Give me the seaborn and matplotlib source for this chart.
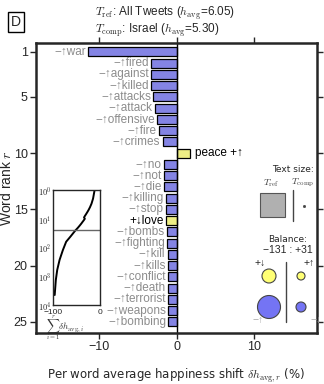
import numpy as np
import pandas as pd
import matplotlib
matplotlib.use("Agg")
import matplotlib.pyplot as plt
import seaborn as sns
from matplotlib.patches import Circle, Rectangle

sns.set_style("ticks")
plt.rcParams['font.family'] = ['Liberation Sans', 'DejaVu Sans']
plt.rcParams['mathtext.fontset'] = 'cm'

# Word shift data (top 25 words)
words = ["war", "fired", "against", "killed", "attacks", "attack", "offensive", "fire",
         "crimes", "peace", "no", "not", "die", "killing", "stop", "love", "bombs",
         "fighting", "kill", "kills", "conflict", "death", "terrorist", "weapons", "bombing"]
shifts = [-11.45, -3.35, -3.3, -3.3, -3.05, -2.85, -2.55, -2.3, -1.85, 1.7,
          -1.7, -1.7, -1.65, -1.4, -1.4, -1.35, -1.3, -1.25, -1.2, -1.15,
          -1.15, -1.1, -1.1, -1.1, -1.1]
prefixes = ["−↑"] * 9 + ["+↑"] + ["−↑"] * 5 + ["+↓"] + ["−↑"] * 9
ranks = list(range(1, 26))

# cumulative shift beyond the top 25 words
tail_ranks = [42, 63, 123, 270, 600, 1350, 4500]
tail_cum = [-63, -72, -79, -86, -91, -94, -96.4]

balance_labels = ["−131", "+31"]

df = pd.DataFrame({"rank": ranks, "shift": shifts, "word": words, "prefix": prefixes})
df["kind"] = np.where(df["prefix"].str.startswith("+"), "pos", "neg")

blue = "#7474F4"
yellow = "#FFFF74"
gray_txt = "#8c8c8c"

fig = plt.figure(figsize=(3.24, 3.84), dpi=100)
ax = fig.add_axes([36 / 324, 1 - 333 / 384, 281 / 324, 290 / 384])

sns.barplot(data=df, x="shift", y="rank", hue="kind", palette={"pos": yellow, "neg": blue},
            orient="y", native_scale=True, dodge=False, width=0.8, edgecolor="black",
            linewidth=0.9, legend=False, ax=ax)

ax.axvline(0, color="black", lw=1)
ax.set_xlim(-18.2, 18.1)
ax.set_ylim(26, 0.2)
ax.set_xticks([-10, 0, 10])
ax.set_xticklabels(["−10", "0", "10"])
ax.set_yticks([1, 5, 10, 15, 20, 25])
ax.tick_params(axis="both", labelsize=9, direction="out", length=4, width=1,
               top=True, right=True, pad=2)
for s in ax.spines.values():
    s.set_linewidth(1.8)
    s.set_visible(True)
ax.set_ylabel("Word rank $r$", fontsize=10)
ax.yaxis.set_label_coords(-0.08, 0.5)
ax.set_xlabel(r"Per word average happiness shift $\delta h_{{\rm avg},r}$ (%)",
              fontsize=8.5, family=["DejaVu Sans"], labelpad=9)

# word labels
for _, row in df.iterrows():
    if row["shift"] > 0:
        ax.text(row["shift"] + 0.6, row["rank"], row["word"] + " " + row["prefix"],
                ha="left", va="center", fontsize=8.5, color="black")
    else:
        col = "black" if row["prefix"] == "+↓" else gray_txt
        ax.text(row["shift"] - 0.3, row["rank"], row["prefix"] + row["word"],
                ha="right", va="center", fontsize=8.5, color=col)

# inset: cumulative sum
cum_ranks = ranks + tail_ranks
cum_vals = list(np.cumsum(shifts)) + tail_cum
ins = fig.add_axes([53 / 324, 1 - 305 / 384, 47 / 324, 115 / 384])
sns.lineplot(x=cum_vals, y=cum_ranks, sort=False, estimator=None, color="black", lw=1.4, ax=ins)
ins.axhline(25, color="#666666", lw=1)
ins.set_yscale("log")
ins.set_ylim(1e4, 1)
ins.set_xlim(-100, 0)
ins.set_xticks([-100, 0])
ins.set_xticklabels(["−100", "0"])
ins.set_yticks([1, 10, 100, 1000, 10000])
ins.set_yticklabels(["$10^0$", "$10^1$", "$10^2$", "$10^3$", "$10^4$"])
ins.minorticks_off()
ins.tick_params(axis="y", labelsize=6, length=0, pad=1)
ins.tick_params(axis="x", labelsize=6, length=0, pad=3)
for s in ins.spines.values():
    s.set_linewidth(1)
    s.set_visible(True)
fig.text(46 / 324, 1 - 328 / 384, r"$\sum_{i=1}^{r}\delta h_{{\rm avg},i}$",
         fontsize=6.5, color="#333333", va="center", ha="left")

# titles and panel label
fig.text(95 / 324, 1 - 13 / 384, r"$T_{\rm ref}$: All Tweets ($h_{\rm avg}$=6.05)",
         fontsize=8.5, va="center", ha="left")
fig.text(95 / 324, 1 - 30 / 384, r"$T_{\rm comp}$: Israel ($h_{\rm avg}$=5.30)",
         fontsize=8.5, va="center", ha="left")
fig.text(16 / 324, 1 - 22 / 384, "D", fontsize=10, ha="center", va="center",
         bbox=dict(boxstyle="square,pad=0.25", fc="white", ec="black", lw=1))

# legend overlay (pixel coordinates)
ov = fig.add_axes([0, 0, 1, 1], facecolor="none")
ov.set_xlim(0, 324)
ov.set_ylim(384, 0)
ov.axis("off")
ov.text(293, 170, "Text size:", fontsize=6.5, ha="center", va="center", family=["DejaVu Sans"])
ov.text(271, 183, r"$T_{\rm ref}$", fontsize=7, ha="center", va="center", color="#444444")
ov.text(303, 183, r"$T_{\rm comp}$", fontsize=7, ha="center", va="center", color="#444444")
ov.add_patch(Rectangle((260, 193), 25, 24, fc="#b0b0b0", ec="#555555", lw=0.8))
ov.plot([293, 293], [190, 221], color="#444444", lw=1)
ov.plot([304], [206], marker="s", ms=1, color="#444444")
ov.text(288, 239, "Balance:", fontsize=6.5, ha="center", va="center", family=["DejaVu Sans"])
ov.text(288, 250, balance_labels[0] + " : " + balance_labels[1], fontsize=7.5,
        ha="center", va="center")
ov.text(260, 263, "+↓", fontsize=7.5, ha="center", va="center")
ov.text(309, 263, "+↑", fontsize=7.5, ha="center", va="center")
ov.text(258, 320, "−↑", fontsize=7.5, ha="center", va="center", color="#aaaaaa")
ov.text(316, 320, "−↓", fontsize=7.5, ha="center", va="center", color="#aaaaaa")
ov.add_patch(Circle((269, 276), 7, fc=yellow, ec="#444444", lw=0.8))
ov.add_patch(Circle((301, 276), 4, fc=yellow, ec="#444444", lw=0.8))
ov.add_patch(Circle((269, 307), 11.5, fc=blue, ec="#444444", lw=0.8))
ov.add_patch(Circle((301, 307), 5, fc=blue, ec="#444444", lw=0.8))
ov.plot([286, 286], [262, 322], color="#444444", lw=1)

fig.savefig("out.png", dpi=100)
